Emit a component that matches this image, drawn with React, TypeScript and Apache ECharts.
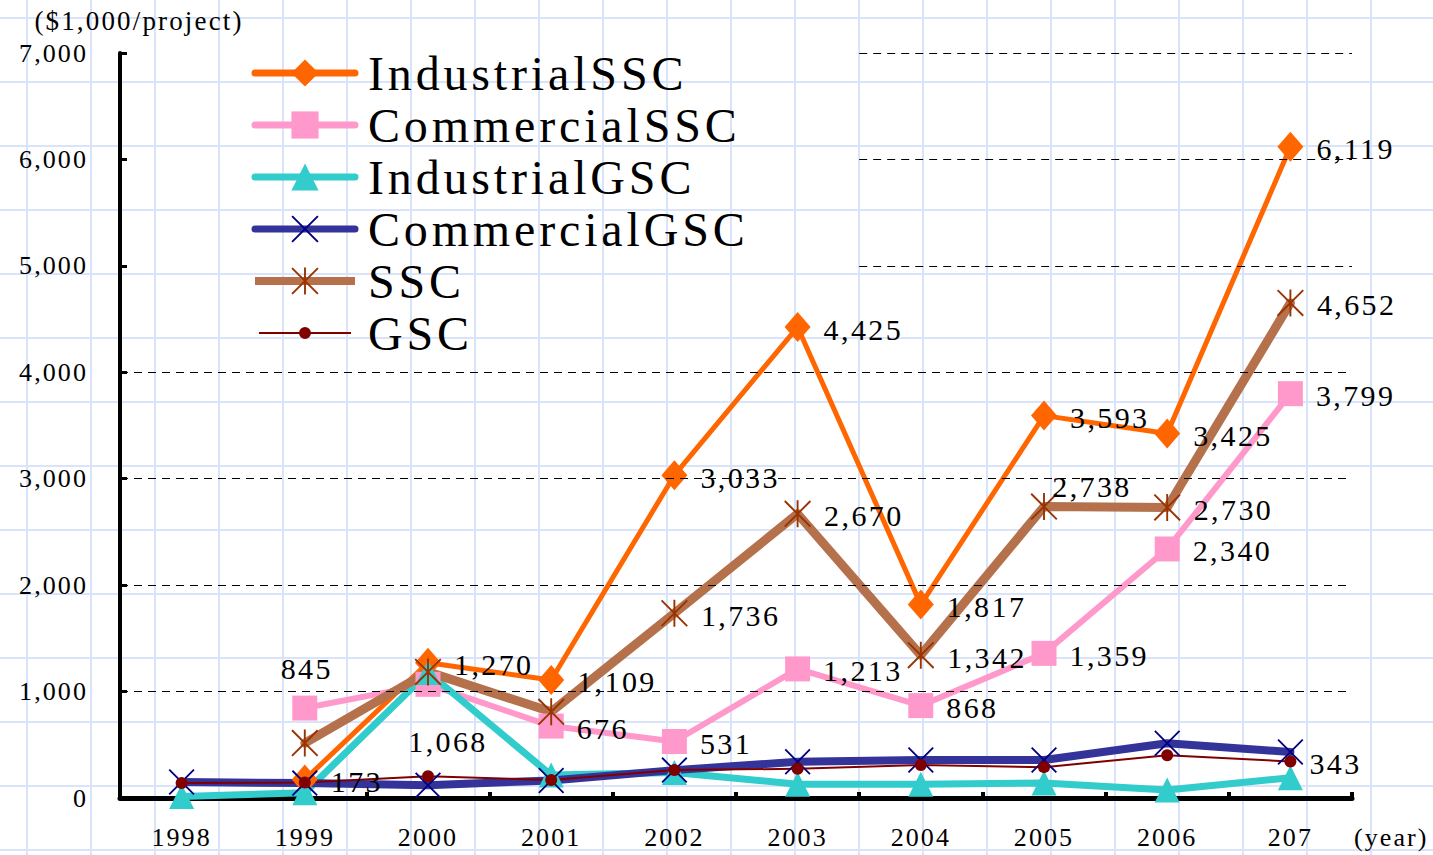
import React, { useEffect, useRef } from "react";
import * as echarts from "echarts";

// ---------- data ----------
const years = ["1998", "1999", "2000", "2001", "2002", "2003", "2004", "2005", "2006", "207"];
const industrialSSC = [null, 173, 1270, 1109, 3033, 4425, 1817, 3593, 3425, 6119];
const commercialSSC = [null, 845, 1068, 676, 531, 1213, 868, 1359, 2340, 3799];
const industrialGSC = [15, 50, 1180, 215, 240, 130, 130, 140, 75, 190];
const commercialGSC = [150, 140, 120, 165, 262, 340, 357, 357, 515, 432];
const ssc = [null, 516, 1185, 810, 1736, 2670, 1342, 2738, 2730, 4652];
const gsc = [140, 145, 205, 168, 262, 275, 310, 290, 402, 343];

const sscLabelYears = ["2002", "2003", "2004", "2005", "2006", "207"];
const gscLabelYears = ["207"];

const yMin = 0;
const yMax = 7000;
const yStep = 1000;
const fullGridLevels = [1000, 2000, 3000, 4000];
const partialGridLevels = [5000, 6000, 7000];
const partialGridStart = 6; // category boundary where the upper dashed lines begin

// ---------- styling helpers ----------
const SERIF = "'Liberation Serif', 'DejaVu Serif', serif";
const fmt = (v: number) => Number(v).toLocaleString("en-US");

const X_PATH = "path://M0,5 L5,0 L100,95 L95,100 Z M95,0 L100,5 L5,100 L0,95 Z";
const STAR_PATH = X_PATH + " M46.5,0 L53.5,0 L53.5,100 L46.5,100 Z";
const GSC_LEGEND_ICON =
  "path://M0,0 M100,34 M4,16 L96,16 L96,18 L4,18 Z M44,17 A6,6 0 1,1 56,17 A6,6 0 1,1 44,17 Z";

function points(
  values: (number | null)[],
  labelled: (i: number) => boolean,
  overrides: Record<number, any> = {}
) {
  return values.map((v, i) =>
    v == null
      ? null
      : {
          value: v,
          label: labelled(i) ? { show: true, ...(overrides[i] || {}) } : { show: false },
        }
  );
}

function lineSeries(
  name: string,
  lineColor: string,
  markColor: string,
  width: number,
  symbol: string,
  size: number | number[],
  data: any[]
) {
  return {
    type: "line",
    name,
    data,
    symbol,
    symbolSize: size,
    lineStyle: { color: lineColor, width, cap: "round", join: "round" },
    itemStyle: { color: markColor, borderWidth: 0 },
    label: {
      show: false,
      position: "right",
      distance: 13,
      offset: [0, 2],
      fontSize: 30,
      fontFamily: SERIF,
      color: "#000",
      formatter: (p: any) => fmt(p.value),
    },
    emphasis: { disabled: true },
  };
}

export default function App() {
  const ref = useRef<HTMLDivElement>(null);

  useEffect(() => {
    if (!ref.current) return;
    const chart = echarts.init(ref.current, undefined, { renderer: "svg" });
    const all = () => true;
    const option: any = {
      animation: false,
      grid: { left: 120, right: 81, top: 53, bottom: 57, containLabel: false },
      legend: {
        orient: "vertical",
        left: 251,
        top: 47,
        padding: 0,
        itemWidth: 100,
        itemHeight: 34,
        itemGap: 0,
        selectedMode: false,
        textStyle: { fontSize: 48, lineHeight: 52, fontFamily: SERIF, color: "#000", padding: [0, 0, 0, 8] },
        data: [
          { name: "IndustrialSSC", lineStyle: { width: 7 } },
          { name: "CommercialSSC", lineStyle: { width: 7 } },
          { name: "IndustrialGSC", lineStyle: { width: 7 } },
          { name: "CommercialGSC", lineStyle: { width: 7 } },
          { name: "SSC", lineStyle: { width: 8, cap: "butt" } },
          { name: "GSC", icon: GSC_LEGEND_ICON },
        ],
      },
      xAxis: [
        {
          type: "category",
          data: years,
          boundaryGap: true,
          axisLine: { lineStyle: { color: "#000", width: 5 } },
          axisTick: { show: true, inside: true, length: 6, lineStyle: { color: "#000", width: 4 } },
          axisLabel: { color: "#000", fontSize: 26, fontFamily: SERIF, margin: 26 },
          splitLine: { show: false },
          name: "(year)",
          nameLocation: "end",
          nameGap: 2,
          nameTextStyle: {
            color: "#000",
            fontSize: 26,
            fontFamily: SERIF,
            align: "left",
            verticalAlign: "top",
            padding: [26, 0, 0, 0],
          },
        },
        { type: "value", min: 0, max: years.length, show: false },
      ],
      yAxis: {
        type: "value",
        min: yMin,
        max: yMax,
        interval: yStep,
        axisLine: { show: true, lineStyle: { color: "#000", width: 4 } },
        axisTick: { show: true, inside: true, length: 7, lineStyle: { color: "#000", width: 3 } },
        axisLabel: { color: "#000", fontSize: 26, fontFamily: SERIF, margin: 32, formatter: (v: number) => fmt(v) },
        splitLine: { show: false },
        name: "($1,000/project)",
        nameLocation: "end",
        nameGap: 19,
        nameTextStyle: { color: "#000", fontSize: 27, fontFamily: SERIF, align: "center", padding: [0, 0, 0, 38] },
      },
      series: [
        {
          type: "line",
          name: "gridlines",
          xAxisIndex: 1,
          data: [],
          silent: true,
          symbol: "none",
          emphasis: { disabled: true },
          markLine: {
            silent: true,
            symbol: ["none", "none"],
            label: { show: false },
            emphasis: { disabled: true },
            lineStyle: { color: "#000", width: 1, type: [8, 6] },
            data: [
              ...fullGridLevels.map((v) => [{ coord: [0, v] }, { coord: [years.length, v] }]),
              ...partialGridLevels.map((v) => [{ coord: [partialGridStart, v] }, { coord: [years.length, v] }]),
            ],
          },
        },
        lineSeries("IndustrialSSC", "#ff6600", "#ff6600", 5, "diamond", [26, 30], points(industrialSSC, all)),
        lineSeries(
          "CommercialSSC",
          "#ff99cc",
          "#ff99cc",
          6,
          "rect",
          25,
          points(commercialSSC, all, {
            1: { position: "top", distance: 12, offset: [2, 0] },
            2: { position: "bottom", distance: 30, offset: [20, 0] },
          })
        ),
        lineSeries("IndustrialGSC", "#33cccc", "#33cccc", 7, "triangle", 25, points(industrialGSC, () => false)),
        lineSeries("CommercialGSC", "#333399", "#000080", 8, X_PATH, 26, points(commercialGSC, () => false)),
        lineSeries(
          "SSC",
          "#b5714b",
          "#993300",
          9,
          STAR_PATH,
          27,
          points(ssc, (i) => sscLabelYears.includes(years[i]), {
            7: { position: "top", distance: 0, offset: [48, 8] },
          })
        ),
        lineSeries("GSC", "#800000", "#800000", 2, "circle", 12, points(gsc, (i) => gscLabelYears.includes(years[i]))),
      ],
    };
    chart.setOption(option);
    return () => chart.dispose();
  }, []);

  return (
    <>
      <style>{`body{margin:0} .chart-root text{letter-spacing:0.08em}`}</style>
      <div
        className="chart-root"
        ref={ref}
        style={{
          position: "absolute",
          left: 0,
          top: 0,
          width: 1433,
          height: 855,
          backgroundColor: "#ffffff",
          backgroundImage:
            "linear-gradient(to right, #d9e3f9 2px, transparent 2px), linear-gradient(to bottom, #d9e3f9 2px, transparent 2px)",
          backgroundSize: "64px 64px",
          backgroundPosition: "26px 17px",
        }}
      />
    </>
  );
}
